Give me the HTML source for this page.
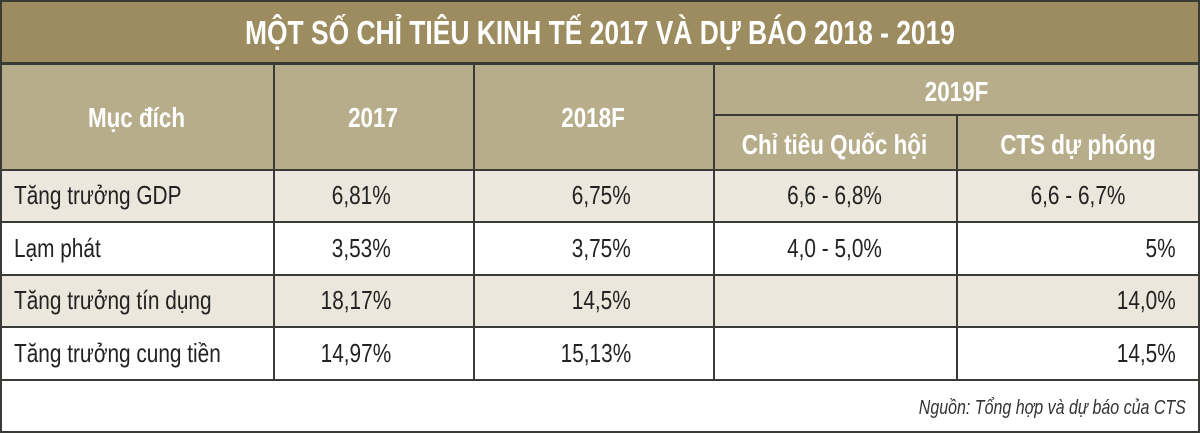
<!DOCTYPE html>
<html><head><meta charset="utf-8"><style>
body{margin:0;width:1200px;height:433px;overflow:hidden;background:#fff;font-family:"Liberation Sans",sans-serif}
.b{position:absolute;box-sizing:border-box}
.t{position:absolute;white-space:nowrap;transform:scaleX(.8);color:#222;font-size:26px;line-height:30px}
.h{color:#fff;font-weight:bold;transform-origin:center;font-size:28px}
.c{transform-origin:center}
.r{transform-origin:right}
.l{transform-origin:left}
.line{position:absolute;background:#3a3a36}
</style></head><body>
<div class="b" style="left:0;top:0;width:1200px;height:63px;background:#9c8c60"></div>
<div class="b" style="left:0;top:63px;width:1200px;height:107px;background:#b8ad8a"></div>
<div class="b" style="left:0;top:170px;width:1200px;height:52px;background:#ebe7dc"></div>
<div class="b" style="left:0;top:275px;width:1200px;height:52px;background:#ebe7dc"></div>

<div class="line" style="left:0;top:0;width:1200px;height:2px"></div>
<div class="line" style="left:0;top:431px;width:1200px;height:2px"></div>
<div class="line" style="left:0;top:0;width:2px;height:433px"></div>
<div class="line" style="left:1198px;top:0;width:2px;height:433px"></div>
<div class="line" style="left:0;top:62px;width:1200px;height:3px"></div>
<div class="line" style="left:713px;top:114px;width:487px;height:2px"></div>
<div class="line" style="left:0;top:169px;width:1200px;height:2px"></div>
<div class="line" style="left:0;top:221px;width:1200px;height:2px"></div>
<div class="line" style="left:0;top:274px;width:1200px;height:2px"></div>
<div class="line" style="left:0;top:326px;width:1200px;height:2px"></div>
<div class="line" style="left:0;top:379px;width:1200px;height:2px"></div>
<div class="line" style="left:273px;top:63px;width:2px;height:317px"></div>
<div class="line" style="left:473px;top:63px;width:2px;height:317px"></div>
<div class="line" style="left:713px;top:63px;width:2px;height:317px"></div>
<div class="line" style="left:956px;top:115px;width:2px;height:265px"></div>

<div class="t h" style="left:0;width:1200px;text-align:center;top:15px;font-size:33px;line-height:36px">MỘT SỐ CHỈ TIÊU KINH TẾ 2017 VÀ DỰ BÁO 2018 - 2019</div>
<div class="t h" style="left:0;width:273px;text-align:center;top:103px">Mục đích</div>
<div class="t h" style="left:273px;width:200px;text-align:center;top:103px">2017</div>
<div class="t h" style="left:473px;width:240px;text-align:center;top:103px">2018F</div>
<div class="t h" style="left:713px;width:487px;text-align:center;top:77px">2019F</div>
<div class="t h" style="left:713px;width:243px;text-align:center;top:130px">Chỉ tiêu Quốc hội</div>
<div class="t h" style="left:956px;width:244px;text-align:center;top:130px">CTS dự phóng</div>

<div id="rows"></div>
<div class="t r" style="right:14px;top:393px;font-size:20px;font-style:italic;color:#333">Nguồn: Tổng hợp và dự báo của CTS</div>
<script>
const labels=["Tăng trưởng GDP","Lạm phát","Tăng trưởng tín dụng","Tăng trưởng cung tiền"];
const v2017=["6,81%","3,53%","18,17%","14,97%"];
const v2018=["6,75%","3,75%","14,5%","15,13%"];
const vQH=["6,6 - 6,8%","4,0 - 5,0%","",""];
const vCTS=["6,6 - 6,7%","5%","14,0%","14,5%"];
const tops=[180,233,285,338];
const root=document.getElementById('rows');
function add(txt,cls,style,name){const d=document.createElement('div');d.className='t '+cls;d.style.cssText=style;d.textContent=txt;


root.appendChild(d);}
labels.forEach((lb,i)=>{const y=tops[i];
add(lb,'l','left:14px;top:'+y+'px','row-label');
add(v2017[i],'r','right:'+(1200-391)+'px;top:'+y+'px','value-2017');
add(v2018[i],'r','right:'+(1200-631)+'px;top:'+y+'px','value-2018f');
if(vQH[i])add(vQH[i],'c','left:713px;width:243px;text-align:center;top:'+y+'px','value-quoc-hoi');
if(i==0)add(vCTS[i],'c','left:956px;width:244px;text-align:center;top:'+y+'px','value-cts');
else add(vCTS[i],'r','right:'+(1200-1176)+'px;top:'+y+'px','value-cts');
});
</script>
</body></html>
